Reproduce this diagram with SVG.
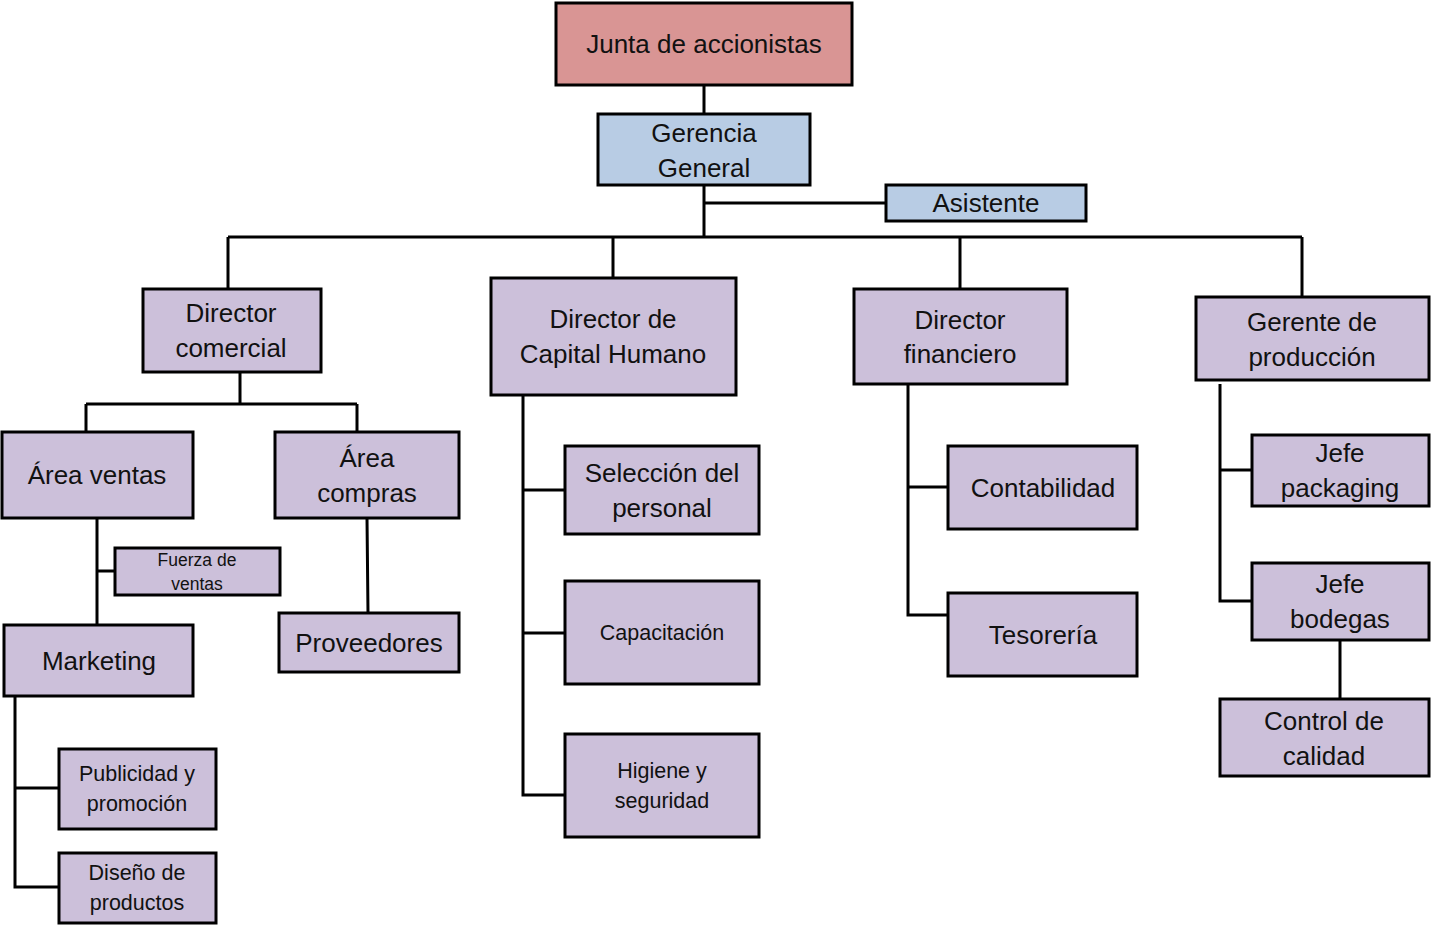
<svg xmlns="http://www.w3.org/2000/svg" width="1431" height="934" viewBox="0 0 1431 934">
<style>
.b{stroke:#000;stroke-width:3}
.r{fill:#D99594}
.u{fill:#B8CCE4}
.p{fill:#CCC0DA}
text{font-family:"Liberation Sans",Arial,sans-serif;font-size:26px;fill:#111;text-anchor:middle;dominant-baseline:central}
.s{font-size:21.5px}
.xs{font-size:17.5px}
.c{fill:none;stroke:#000;stroke-width:3}
</style>
<rect width="1431" height="934" fill="#fff"/>
<g id="connectors">
<path class="c" d="M704 85V113M704 185V237M704 203H885M228 237H1302M228 237V289M613 237V278M960 237V289M1302 237V297"/>
<path class="c" d="M240 372V404M86 404H357M86 404V432M357 404V432"/>
<path class="c" d="M97 518V625M97 571H115M367 518L368 613"/>
<path class="c" d="M15 696V887H59M15 788H59"/>
<path class="c" d="M523 395V795H565M523 490H565M523 633H565"/>
<path class="c" d="M908 384V615H948M908 487H948"/>
<path class="c" d="M1220 384V601H1252M1220 470H1252M1340 640V699"/>
</g>
<g id="junta"><rect class="b r" x="556" y="3" width="296" height="82"/><text x="704" y="44">Junta de accionistas</text></g>
<g id="gerencia"><rect class="b u" x="598" y="114" width="212" height="71"/><text x="704" y="133">Gerencia</text><text x="704" y="168">General</text></g>
<g id="asistente"><rect class="b u" x="886" y="185" width="200" height="36"/><text x="986" y="203">Asistente</text></g>
<g id="dir-comercial"><rect class="b p" x="143" y="289" width="178" height="83"/><text x="231" y="313">Director</text><text x="231" y="348">comercial</text></g>
<g id="dir-capital"><rect class="b p" x="491" y="278" width="245" height="117"/><text x="613" y="319">Director de</text><text x="613" y="354">Capital Humano</text></g>
<g id="dir-financiero"><rect class="b p" x="854" y="289" width="213" height="95"/><text x="960" y="320">Director</text><text x="960" y="354">financiero</text></g>
<g id="gerente-produccion"><rect class="b p" x="1196" y="297" width="233" height="83"/><text x="1312" y="322">Gerente de</text><text x="1312" y="357">producción</text></g>
<g id="area-ventas"><rect class="b p" x="2" y="432" width="191" height="86"/><text x="97" y="475">Área ventas</text></g>
<g id="area-compras"><rect class="b p" x="275" y="432" width="184" height="86"/><text x="367" y="458">Área</text><text x="367" y="493">compras</text></g>
<g id="fuerza-ventas"><rect class="b p" x="115" y="548" width="165" height="47"/><text class="xs" x="197" y="560">Fuerza de</text><text class="xs" x="197" y="584">ventas</text></g>
<g id="marketing"><rect class="b p" x="4" y="625" width="189" height="71"/><text x="99" y="661">Marketing</text></g>
<g id="proveedores"><rect class="b p" x="279" y="613" width="180" height="59"/><text x="369" y="643">Proveedores</text></g>
<g id="publicidad"><rect class="b p" x="59" y="749" width="157" height="80"/><text class="s" x="137" y="774">Publicidad y</text><text class="s" x="137" y="804">promoción</text></g>
<g id="diseno"><rect class="b p" x="59" y="853" width="157" height="70"/><text class="s" x="137" y="873">Diseño de</text><text class="s" x="137" y="903">productos</text></g>
<g id="seleccion"><rect class="b p" x="565" y="446" width="194" height="88"/><text x="662" y="473">Selección del</text><text x="662" y="508">personal</text></g>
<g id="capacitacion"><rect class="b p" x="565" y="581" width="194" height="103"/><text class="s" x="662" y="633">Capacitación</text></g>
<g id="higiene"><rect class="b p" x="565" y="734" width="194" height="103"/><text class="s" x="662" y="771">Higiene y</text><text class="s" x="662" y="801">seguridad</text></g>
<g id="contabilidad"><rect class="b p" x="948" y="446" width="189" height="83"/><text x="1043" y="488">Contabilidad</text></g>
<g id="tesoreria"><rect class="b p" x="948" y="593" width="189" height="83"/><text x="1043" y="635">Tesorería</text></g>
<g id="jefe-packaging"><rect class="b p" x="1252" y="435" width="177" height="71"/><text x="1340" y="453">Jefe</text><text x="1340" y="488">packaging</text></g>
<g id="jefe-bodegas"><rect class="b p" x="1252" y="563" width="177" height="77"/><text x="1340" y="584">Jefe</text><text x="1340" y="619">bodegas</text></g>
<g id="control-calidad"><rect class="b p" x="1220" y="699" width="209" height="77"/><text x="1324" y="721">Control de</text><text x="1324" y="756">calidad</text></g>
</svg>
